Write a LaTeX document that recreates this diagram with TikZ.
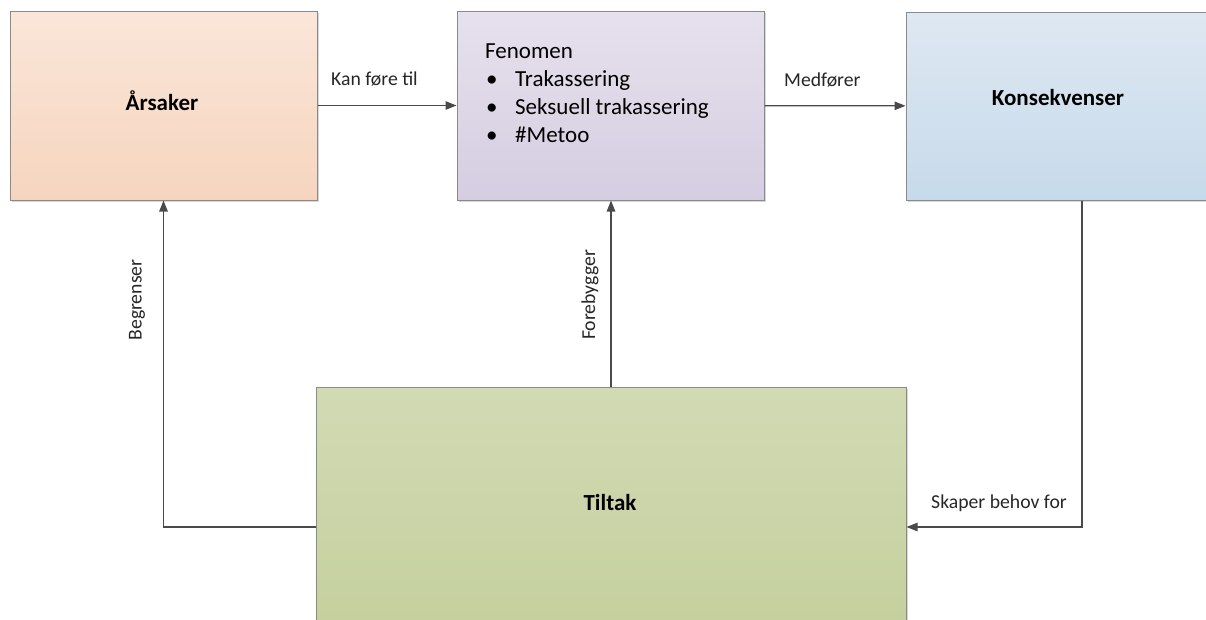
\documentclass[tikz,border=0pt]{standalone}
\usepackage{fontspec}
\setmainfont{Carlito}
\usetikzlibrary{arrows.meta,shadows}
\definecolor{edgegray}{HTML}{8A8A8A}
\definecolor{arrgray}{HTML}{4A4A4A}
\begin{document}
\begin{tikzpicture}[x=1pt,y=-1pt,
  box/.style={draw=edgegray, line width=1pt, inner sep=0pt, minimum width=#1,
    drop shadow={shadow xshift=1.5pt, shadow yshift=-1.5pt, fill=black!30, opacity=0.5}},
  title/.style={font=\fontsize{23}{27}\selectfont\bfseries, inner sep=0pt},
  lbl/.style={font=\fontsize{19.7}{23}\selectfont, text=black!85, inner sep=0pt},
  arr/.style={draw=arrgray, line width=1.2pt, -{Triangle[length=11pt,width=8.5pt]}}
]
\path[use as bounding box, clip] (0,0) rectangle (1206,619);

\node[box=307pt, minimum height=189pt, top color={rgb,255:red,250;green,230;blue,217}, bottom color={rgb,255:red,246;green,213;blue,190}] (ars) at (163.5,105.5) {};
\node[box=307pt, minimum height=189pt, top color={rgb,255:red,230;green,225;blue,237}, bottom color={rgb,255:red,213;green,205;blue,225}] (fen) at (610.5,105.5) {};
\node[box=306pt, minimum height=188pt, top color={rgb,255:red,222;green,232;blue,242}, bottom color={rgb,255:red,199;green,218;blue,234}] (kon) at (1059,106) {};
\node[box=590pt, minimum height=236pt, top color={rgb,255:red,210;green,218;blue,180}, bottom color={rgb,255:red,197;green,208;blue,158}] (tilt) at (611,505) {};

\node[title] (arstitle) at (162,101) {Årsaker};
\node[title] (kontitle) at (1058,98) {Konsekvenser};
\node[title] (tilttitle) at (610,502.5) {Tiltak};

\node[anchor=north west, align=left, inner sep=0pt, font=\fontsize{23}{28}\selectfont] (fentext) at (485,43.5)
  {Fenomen\\
   \makebox[30pt][l]{\hspace{1pt}•}Trakassering\\
   \makebox[30pt][l]{\hspace{1pt}•}Seksuell trakassering\\
   \makebox[30pt][l]{\hspace{1pt}•}\#Metoo};

\draw[arr] (ars) -- node[lbl, pos=0.41, yshift=26pt] (l1) {Kan føre til} (fen);
\draw[arr] (fen) -- node[lbl, pos=0.41, yshift=26pt] (l2) {Medfører} (kon);
\draw[arr] (tilt.north) -- (tilt.north |- fen.south);
\node[lbl, rotate=90] (l3) at (590,295) {Forebygger};
\draw[arr] ([yshift=-22pt]tilt.west) -| (ars.south);
\node[lbl, rotate=90] (l4) at (137,300) {Begrenser};
\draw[arr] ([xshift=23pt]kon.south) |- ([yshift=-22pt]tilt.east);
\node[lbl] (l5) at (999,503) {Skaper behov for};
\end{tikzpicture}
\end{document}
